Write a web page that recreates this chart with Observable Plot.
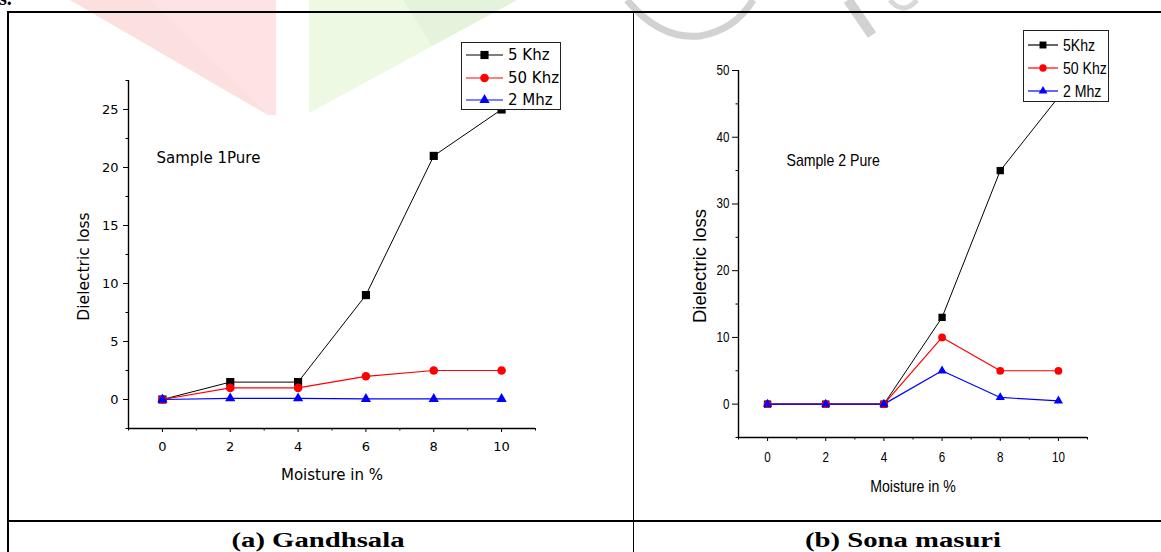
<!DOCTYPE html>
<html>
<head>
<meta charset="utf-8">
<script src="https://cdn.jsdelivr.net/npm/d3@7"></script>
<script src="https://cdn.jsdelivr.net/npm/@observablehq/plot@0.6"></script>
<style>
  html, body { margin: 0; padding: 0; background: #fff; }
  body { width: 1161px; height: 552px; overflow: hidden; position: relative; font-family: "DejaVu Sans", sans-serif; }
  .abs { position: absolute; }
  .line { position: absolute; background: #000; }
  .legend { position: absolute; background: #fff; border: 1px solid #222; box-sizing: border-box; z-index: 5; }
  .legend .row { position: absolute; left: 0; height: 0; }
  .legend .row svg { position: absolute; left: 0; top: -7px; overflow: visible; }
  .legend .row span { position: absolute; top: 0; transform-origin: 0 0; white-space: nowrap; color: #000; line-height: 1; }
  .caption { position: absolute; font-family: "Liberation Serif", "Times New Roman", serif; font-weight: bold; font-size: 20.5px; color: #000; white-space: nowrap; transform: translate(-50%, -50%) scaleX(1.4); line-height: 1; }
  .plotbox { position: absolute; z-index: 3; }
  .plotbox svg { background: transparent !important; max-width: none !important; }
</style>
</head>
<body>
<svg class="abs" style="left:0;top:0;z-index:0" width="1161" height="552">
  <polygon points="70,0 276,0 276,115 268,115" fill="#fde3e3"/>
  <polygon points="70,0 150,0 268,115" fill="#fcdcdc" opacity="0.6"/>
  <polygon points="309,0 517,0 309,113" fill="#eef9e4"/>
  <polygon points="403,0 517,0 432,46" fill="#e6f3dc"/>
  <path d="M627,0 Q660,40 700,36 Q735,30 753,0" fill="none" stroke="#d2d2d2" stroke-width="7"/>
  <path d="M848,0 L872,35" fill="none" stroke="#d2d2d2" stroke-width="10"/>
  <path d="M890,0 Q903,16 917,0" fill="none" stroke="#d8d8d8" stroke-width="5"/>
</svg>
<div class="abs" style="left:-1px;top:-13px;font:bold 20px 'Liberation Serif',serif;z-index:1">s.</div>

<div class="line" style="left:7px;top:11px;width:1160px;height:2px;z-index:4"></div>
<div class="line" style="left:7px;top:11px;width:2px;height:545px;z-index:4"></div>
<div class="line" style="left:633px;top:11px;width:1px;height:545px;z-index:4"></div>
<div class="line" style="left:7px;top:520px;width:1160px;height:2px;z-index:4"></div>

<div id="p1" class="plotbox" style="left:10px;top:14px;width:610px;height:500px"></div>
<div id="p2" class="plotbox" style="left:640px;top:14px;width:510px;height:500px"></div>
<div id="leg1" class="legend" style="left:461px;top:42px;width:100px;height:68px"></div>
<div id="leg2" class="legend" style="left:1023px;top:30px;width:86px;height:72px"></div>
<div id="cap1" class="caption" style="left:318px;top:540px;z-index:6"></div>
<div id="cap2" class="caption" style="left:903px;top:540px;z-index:6"></div>

<script>
// ---------- data ----------
const moisture = [0, 2, 4, 6, 8, 10];

const gandhsala5kHz  = [0, 1.5, 1.5, 9, 21, 25];
const gandhsala50kHz = [0, 1, 1, 2, 2.5, 2.5];
const gandhsala2MHz  = [0, 0.1, 0.1, 0.05, 0.05, 0.05];

const sona5kHz  = [0, 0, 0, 13, 35, 46];
const sona50kHz = [0, 0, 0, 10, 5, 5];
const sona2MHz  = [0, 0, 0, 5, 1, 0.5];

const legendLeft  = ["5 Khz", "50 Khz", "2 Mhz"];
const legendRight = ["5Khz", "50 Khz", "2 Mhz"];
const seriesColors  = ["#000000", "#ff0000", "#0000ff"];
const seriesSymbols = ["square", "circle", "triangle"];

const xTicks = [0, 2, 4, 6, 8, 10];
const xMinorTicks = [-1, 1, 3, 5, 7, 9, 11];
const leftYTicks = [0, 5, 10, 15, 20, 25];
const leftYMinor = [-2.5, 2.5, 7.5, 12.5, 17.5, 22.5, 27.5];
const rightYTicks = [0, 10, 20, 30, 40, 50];
const rightYMinor = [-5, 5, 15, 25, 35, 45];

const xLabel = "Moisture in %";
const yLabel = "Dielectric loss";
const annotationLeft = "Sample 1Pure";
const annotationRight = "Sample 2 Pure";
const captionLeft = "(a) Gandhsala";
const captionRight = "(b) Sona masuri";

// ---------- helpers ----------
const symbolR = {square: 4.6, circle: 4.3, triangle: 3.8};

function toRows(values) {
  return moisture.map((m, i) => ({x: m, y: values[i]}));
}

function makeChart(cfg) {
  const seriesMarks = [];
  cfg.series.forEach((vals, k) => {
    seriesMarks.push(Plot.line(toRows(vals), {x: "x", y: "y", stroke: seriesColors[k], strokeWidth: k === 0 ? 1 : 1.2}));
  });
  cfg.series.forEach((vals, k) => {
    seriesMarks.push(Plot.dot(toRows(vals), {x: "x", y: "y", symbol: seriesSymbols[k], fill: seriesColors[k], stroke: "none", r: symbolR[seriesSymbols[k]] * cfg.markerScale}));
  });
  return Plot.plot({
    width: cfg.width, height: cfg.height,
    marginLeft: cfg.ml, marginRight: cfg.mr, marginTop: cfg.mt, marginBottom: cfg.mb,
    x: {domain: cfg.xDomain},
    y: {domain: cfg.yDomain},
    style: {fontFamily: cfg.font, fontSize: cfg.tickFont + "px", color: "#000", background: "transparent", overflow: "visible"},
    marks: [
      Plot.ruleX([cfg.xDomain[0]], {stroke: "#000", strokeWidth: 1.4}),
      Plot.ruleY([cfg.yDomain[0]], {stroke: "#000", strokeWidth: 1.4}),
      Plot.axisY(cfg.yTicks, {anchor: "left", tickSize: cfg.yTickSize, tickPadding: cfg.yTickPad, label: null, fontSize: cfg.tickFont}),
      Plot.axisY(cfg.yMinor, {anchor: "left", tickSize: 2.5, tickFormat: () => "", label: null}),
      Plot.axisX(xTicks, {anchor: "bottom", tickSize: 4, tickPadding: cfg.xTickPad, label: null, fontSize: cfg.tickFont}),
      Plot.axisX(xMinorTicks, {anchor: "bottom", tickSize: 2.5, tickFormat: () => "", label: null}),
      ...seriesMarks,
      Plot.text([yLabel], {frameAnchor: "left", rotate: -90, dx: cfg.yLabelDx, dy: cfg.yLabelDy, fontSize: cfg.yLabelFont, textAnchor: "middle", lineAnchor: "middle", fill: "#000"}),
      Plot.text([xLabel], {frameAnchor: "bottom", dy: cfg.xLabelDy, fontSize: cfg.labelFont, textAnchor: "middle", lineAnchor: "middle", fill: "#000"}),
      Plot.text([cfg.annotation], {frameAnchor: "top-left", dx: cfg.annDx, dy: cfg.annDy, fontSize: cfg.labelFont, textAnchor: "start", lineAnchor: "middle", fill: "#000"})
    ]
  });
}

// squeeze horizontal texts (the reference's right panel is horizontally compressed)
function condense(svg, factor) {
  svg.querySelectorAll("text").forEach(t => {
    if ((t.getAttribute("transform") || "").includes("rotate")) return;
    const len = t.getComputedTextLength();
    if (len > 0) {
      t.setAttribute("textLength", (len * factor).toFixed(2));
      t.setAttribute("lengthAdjust", "spacingAndGlyphs");
    }
  });
}

function makeLegend(el, labels, o) {
  labels.forEach((lab, k) => {
    const row = document.createElement("div");
    row.className = "row";
    row.style.top = o.rows[k] + "px";
    const sym = d3.symbol(k === 0 ? d3.symbolSquare : k === 1 ? d3.symbolCircle : d3.symbolTriangle,
      Math.PI * Math.pow(symbolR[seriesSymbols[k]] * o.markerScale, 2))();
    row.innerHTML =
      `<svg width="${o.lineEnd + 2}" height="14"><line x1="${o.lineStart}" x2="${o.lineEnd}" y1="7" y2="7" stroke="${seriesColors[k]}" stroke-width="1.2"/>` +
      `<path d="${sym}" transform="translate(${o.marker},7)" fill="${seriesColors[k]}"/></svg>` +
      `<span style="left:${o.textX}px;font-family:${o.family};font-size:${o.font}px;transform:scaleX(${o.squeeze}) translateY(-50%)">${lab}</span>`;
    el.appendChild(row);
  });
}

// ---------- left chart ----------
document.getElementById("p1").appendChild(makeChart({
  width: 610, height: 500, ml: 118, mr: 85, mt: 66, mb: 86,
  xDomain: [-1, 11], yDomain: [-2.5, 27.5],
  yTicks: leftYTicks, yMinor: leftYMinor,
  series: [gandhsala5kHz, gandhsala50kHz, gandhsala2MHz],
  font: "DejaVu Sans", tickFont: 13, labelFont: 15, yLabelFont: 15.5,
  yTickSize: 5, yTickPad: 5, xTickPad: 9,
  yLabelDx: -44, yLabelDy: 12, xLabelDy: 47,
  annotation: annotationLeft, annDx: 28, annDy: 78,
  markerScale: 1
}));

// ---------- right chart ----------
const right = makeChart({
  width: 510, height: 500, ml: 98, mr: 63, mt: 56, mb: 77,
  xDomain: [-1, 11], yDomain: [-5, 50],
  yTicks: rightYTicks, yMinor: rightYMinor,
  series: [sona5kHz, sona50kHz, sona2MHz],
  font: "Liberation Sans", tickFont: 14, labelFont: 17, yLabelFont: 18.5,
  yTickSize: 6, yTickPad: 3, xTickPad: 11,
  yLabelDx: -38, yLabelDy: 12, xLabelDy: 49,
  annotation: annotationRight, annDx: 48, annDy: 90,
  markerScale: 0.9
});
document.getElementById("p2").appendChild(right);
condense(right, 0.83);

makeLegend(document.getElementById("leg1"), legendLeft,
  {rows: [12, 35, 57], lineStart: 4, lineEnd: 41, marker: 22.5, textX: 46, font: 15, family: "DejaVu Sans", squeeze: 1, markerScale: 1});
makeLegend(document.getElementById("leg2"), legendRight,
  {rows: [14, 37, 60], lineStart: 4, lineEnd: 34, marker: 19, textX: 39, font: 17, family: "Liberation Sans", squeeze: 0.83, markerScale: 0.85});

document.getElementById("cap1").textContent = captionLeft;
document.getElementById("cap2").textContent = captionRight;
</script>
</body>
</html>
